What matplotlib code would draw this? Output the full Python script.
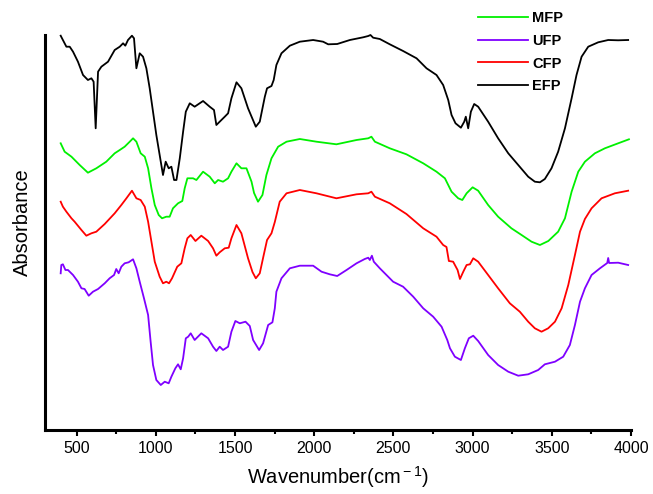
import matplotlib
matplotlib.use("Agg")
import matplotlib.pyplot as plt
from matplotlib.ticker import MultipleLocator

plt.rcParams['font.family'] = ['Liberation Sans', 'DejaVu Sans']
plt.rcParams['mathtext.fontset'] = 'custom'
plt.rcParams['mathtext.rm'] = 'Liberation Sans'
plt.rcParams['mathtext.it'] = 'Liberation Sans'
plt.rcParams['mathtext.bf'] = 'Liberation Sans:bold'

# ---- data (wavenumber in cm-1, absorbance in arbitrary offset units) ----
efp_wn = [399, 413, 435, 456, 477, 508, 540, 571, 593, 607, 620, 635, 656, 698, 740, 772, 793, 807, 824, 849,
          862, 877, 898, 919, 940, 961, 982, 1003, 1024, 1045, 1062, 1081, 1098, 1115, 1130, 1151, 1172, 1189,
          1214, 1245, 1298, 1340, 1367, 1382, 1403, 1435, 1456, 1477, 1509, 1540, 1582, 1631, 1656, 1688, 1702,
          1730, 1744, 1761, 1793, 1846, 1909, 1993, 2056, 2088, 2145, 2225, 2309, 2341, 2355, 2372, 2414, 2477,
          2561, 2646, 2709, 2772, 2814, 2846, 2867, 2892, 2926, 2947, 2957, 2972, 2989, 3010, 3035, 3098, 3161,
          3225, 3288, 3351, 3393, 3425, 3456, 3498, 3540, 3583, 3625, 3656, 3688, 3730, 3793, 3856, 3919, 3982]
efp_ab = [394.3, 390, 383.3, 383.3, 378.3, 368.3, 355, 350, 351.7, 348.3, 301.7, 358.3, 363.3, 368.3, 380, 383.3,
          386.7, 384.3, 390, 394.3, 391.7, 361.7, 376.7, 373.3, 361.7, 341.7, 318.3, 295, 275, 255, 268.3, 261.7,
          263.3, 250, 250, 271.7, 298.3, 318.3, 326.7, 323.3, 329, 323.3, 320, 305, 308.3, 313.3, 316.7, 331.7,
          347.7, 341.7, 321.7, 303.3, 308.3, 333.3, 341.7, 344, 350, 365, 376.7, 384.3, 388.3, 390, 388.3, 385.7,
          386, 390, 392.7, 394, 395, 392.3, 391, 385.7, 379, 371.7, 361.7, 355, 345, 330, 315, 306.7, 302.3, 308.3,
          313.3, 301.7, 318.3, 326, 323.3, 308.3, 291.7, 276.7, 265, 253.3, 248.3, 247.7, 251, 261.7, 278.3, 301.7,
          331.7, 355, 373.3, 383.3, 387.7, 390, 389.7, 390]

mfp_wn = [399, 424, 467, 519, 571, 624, 687, 740, 772, 803, 835, 856, 877, 904, 930, 951, 972, 993, 1018, 1039,
          1066, 1087, 1108, 1140, 1167, 1182, 1199, 1235, 1256, 1298, 1340, 1372, 1393, 1424, 1456, 1477, 1509,
          1540, 1572, 1604, 1620, 1645, 1673, 1698, 1730, 1772, 1825, 1909, 2014, 2140, 2267, 2341, 2361, 2383,
          2477, 2582, 2688, 2772, 2825, 2867, 2909, 2935, 2962, 3000, 3035, 3098, 3161, 3245, 3309, 3372, 3425,
          3478, 3540, 3583, 3625, 3667, 3709, 3772, 3835, 3919, 3987]
mfp_ab = [286.7, 278.3, 273.3, 265, 257.3, 261.7, 268.3, 276.7, 280, 283.3, 288.3, 291.7, 288.3, 276.7, 273.3,
          261.7, 241.7, 225, 215, 211.7, 213.3, 213.3, 221.7, 226.7, 229, 241.7, 251.7, 251.7, 250, 258.3, 253.3,
          246.7, 250, 248.3, 251.7, 258.3, 266.7, 261.7, 261.7, 248.3, 237, 228.3, 235, 255, 271.7, 283.3, 288.3,
          291, 288.3, 285.7, 290, 291.7, 293.3, 288.3, 281.7, 275.7, 266.7, 258.3, 251.7, 238.3, 231.7, 230, 236.7,
          242.7, 239.3, 225, 213.3, 201.7, 195, 188.3, 185, 189, 198.3, 211.7, 238.3, 258.3, 268.3, 276.7, 281.7,
          286.7, 290.7]

cfp_wn = [399, 413, 435, 467, 487, 530, 561, 593, 624, 677, 740, 782, 814, 849, 877, 904, 930, 951, 972, 993,
          1024, 1045, 1066, 1083, 1102, 1135, 1161, 1182, 1199, 1220, 1250, 1287, 1330, 1361, 1382, 1403, 1435,
          1460, 1477, 1509, 1540, 1582, 1610, 1631, 1656, 1681, 1702, 1730, 1751, 1782, 1825, 1909, 2014, 2140,
          2267, 2341, 2361, 2383, 2477, 2582, 2688, 2772, 2814, 2835, 2850, 2877, 2905, 2920, 2941, 2962, 2983,
          3004, 3035, 3098, 3161, 3235, 3298, 3351, 3393, 3435, 3477, 3520, 3562, 3604, 3646, 3678, 3709, 3751,
          3814, 3898, 3982]
cfp_ab = [228.3, 223.3, 218.3, 211.7, 208.3, 200, 194.3, 196.7, 198.3, 206, 216.7, 225, 231.7, 239.3, 231.7, 230,
          223.3, 208.3, 188.3, 168.3, 153.3, 146.7, 148.3, 146.7, 151.7, 163.3, 166.7, 181.7, 191.7, 195, 189,
          194.3, 189, 181.7, 174.3, 177.7, 181.7, 182.3, 191.7, 205, 196.7, 171.7, 158, 151.7, 156.7, 175, 190,
          196.7, 208, 228.3, 236.7, 240, 236.7, 231.7, 235.7, 236.7, 238.3, 233.3, 226.7, 216, 201.7, 193.3, 185,
          183, 169, 168.3, 160, 151, 158.3, 165, 165.7, 171.7, 168.3, 155, 141.7, 126.7, 118.3, 108.3, 101.7, 98.3,
          101.7, 108.3, 121.7, 145, 175, 198.3, 211, 221.7, 231.7, 236.7, 239.3]

ufp_wn = [399, 403, 413, 429, 445, 477, 508, 530, 550, 576, 603, 635, 677, 708, 736, 750, 765, 782, 803, 828, 856,
          877, 898, 925, 951, 967, 982, 1003, 1031, 1056, 1081, 1098, 1123, 1140, 1157, 1172, 1189, 1204, 1220,
          1245, 1287, 1330, 1361, 1382, 1403, 1424, 1456, 1477, 1502, 1530, 1566, 1593, 1614, 1652, 1677, 1709,
          1736, 1751, 1761, 1793, 1846, 1909, 1993, 2046, 2098, 2145, 2204, 2267, 2319, 2341, 2351, 2364, 2376,
          2414, 2456, 2498, 2561, 2625, 2688, 2751, 2804, 2840, 2857, 2888, 2926, 2951, 2976, 3004, 3035, 3098,
          3161, 3225, 3288, 3351, 3414, 3456, 3520, 3572, 3614, 3646, 3678, 3709, 3751, 3804, 3850, 3856, 3862,
          3919, 3982]
ufp_ab = [156.7, 165, 165.7, 160, 160, 155, 148.3, 141.7, 141, 134.3, 138.3, 141, 146.7, 151.7, 155, 161, 156.7,
          163.3, 166.7, 167.7, 170.7, 161.7, 148.3, 131.7, 115, 88.3, 65, 50, 45, 48.3, 46.7, 53.3, 61.7, 65.7,
          60.7, 71.7, 91.7, 93.3, 96.7, 90, 96.7, 91.7, 83.3, 79, 83.3, 80, 83.3, 98.3, 109, 106.7, 108.3, 104, 90,
          80, 86.7, 105, 107.7, 121.7, 138.3, 151.7, 161.7, 164.3, 164.3, 158.3, 155.7, 154, 160, 166.7, 171,
          172.3, 170, 174.3, 168.3, 161.7, 155, 148.3, 143.3, 133.3, 121.7, 113.3, 103.3, 90, 81.7, 73.3, 70,
          81.7, 91.7, 94.3, 89, 75, 65, 58.3, 54.3, 55.7, 60, 65.7, 68.3, 73.3, 85, 105, 128.3, 141.7, 155, 161.7,
          167, 172, 167, 167.3, 165]

labels = ['MFP', 'UFP', 'CFP', 'EFP']
colors = ['#00f000', '#7f00ff', '#ff0000', '#000000']

W, H = 653, 494
fig = plt.figure(figsize=(W / 100, H / 100), dpi=100)
ax = fig.add_axes([45 / W, 1 - 430 / H, (631 - 45) / W, (430 - 35) / H])

series = [(mfp_wn, mfp_ab), (ufp_wn, ufp_ab), (cfp_wn, cfp_ab), (efp_wn, efp_ab)]
for (x, y), lab, c in zip(series, labels, colors):
    ax.plot(x, y, color=c, lw=1.3, label=lab, clip_on=False, solid_joinstyle='round')

ax.set_xlim(300, 4000)
ax.set_ylim(0, 395)
for s in ['top', 'right']:
    ax.spines[s].set_visible(False)
ax.spines['left'].set_linewidth(2.2)
ax.spines['bottom'].set_linewidth(2.2)
ax.set_yticks([])
ax.xaxis.set_major_locator(MultipleLocator(500))
ax.xaxis.set_minor_locator(MultipleLocator(250))
ax.set_xticks([500, 1000, 1500, 2000, 2500, 3000, 3500, 4000])
ax.tick_params(axis='x', which='major', direction='out', length=4, width=1.5, labelsize=11.5, pad=4)
ax.tick_params(axis='x', which='minor', direction='out', length=3, width=1.5)

ax.set_xlabel(r'Wavenumber(cm$^{\rm -1}$)', fontsize=14.5, labelpad=6)
ax.set_ylabel('Absorbance', fontsize=14.5)
ax.yaxis.set_label_coords(-0.022, 0.527)

fig.legend(loc='upper left', bbox_to_anchor=(478 / W, 1 - 11 / H), frameon=False,
           prop={'weight': 'bold', 'size': 10.5}, handlelength=3.4, handletextpad=0.3,
           labelspacing=0.6, borderpad=0, borderaxespad=0)

fig.savefig('out.png', dpi=100)
